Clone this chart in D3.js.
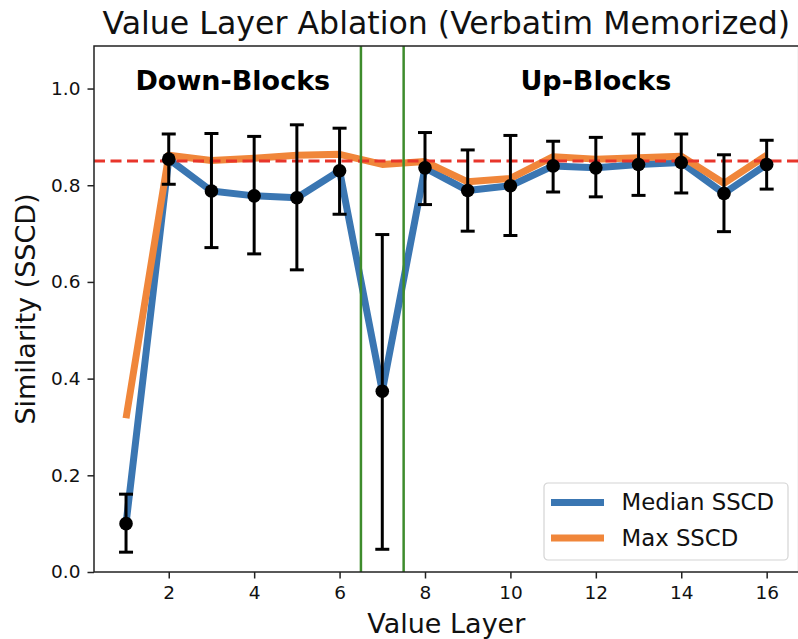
<!DOCTYPE html>
<html>
<head>
<meta charset="utf-8">
<script src="https://cdn.jsdelivr.net/npm/d3@7"></script>
<style>
    body { margin: 0; background: #fff; }
    svg { display: block; font-family: 'DejaVu Sans', sans-serif; }
</style>
</head>
<body>
<svg width="798" height="639"></svg>
<script>
// values
const layers = [1, 2, 3, 4, 5, 6, 7, 8, 9, 10, 11, 12, 13, 14, 15, 16]
const medianSSCD = [0.100, 0.854, 0.788, 0.778, 0.774, 0.830, 0.374, 0.836, 0.789, 0.799, 0.840, 0.836, 0.843, 0.847, 0.783, 0.843]
const maxSSCD = [0.318, 0.862, 0.851, 0.856, 0.862, 0.864, 0.843, 0.849, 0.807, 0.814, 0.859, 0.854, 0.857, 0.860, 0.804, 0.862]
const errLow = [0.041, 0.802, 0.671, 0.658, 0.625, 0.740, 0.047, 0.760, 0.705, 0.696, 0.786, 0.776, 0.779, 0.784, 0.704, 0.792]
const errHigh = [0.161, 0.906, 0.907, 0.901, 0.925, 0.918, 0.698, 0.909, 0.873, 0.903, 0.891, 0.899, 0.906, 0.906, 0.863, 0.893]
const xTicks = [2, 4, 6, 8, 10, 12, 14, 16]
const yTicks = [0.0, 0.2, 0.4, 0.6, 0.8, 1.0]
const baseline = 0.85
const blockSplits = [6.5, 7.5]
const blockLabels = [{ text: 'Down-Blocks', x: 3.5 }, { text: 'Up-Blocks', x: 12 }]
const seriesNames = ['Median SSCD', 'Max SSCD']

const blue = '#3a76b2'
const orange = '#f0863a'

const plotLeft = 94
const plotTop = 46
const plotRight = 798.7
const plotBottom = 572

const svg = d3.select('svg')

const xScale = d3.scaleLinear().domain([0.25, 16.75]).range([plotLeft, plotRight])
const yScale = d3.scaleLinear().domain([0, 1.088]).range([plotBottom, plotTop])

const data = layers.map((l, i) => ({
    layer: l,
    median: medianSSCD[i],
    max: maxSSCD[i],
    lo: errLow[i],
    hi: errHigh[i],
}))

// axes
const xAxis = d3.axisBottom(xScale).tickValues(xTicks).tickSize(6.5).tickPadding(7).tickSizeOuter(0)
const yAxis = d3.axisLeft(yScale).tickValues(yTicks).tickSize(6.5).tickPadding(7)
    .tickSizeOuter(0).tickFormat(d3.format('.1f'))

const xAxisG = svg.append('g').attr('transform', `translate(0, ${plotBottom})`).call(xAxis)
const yAxisG = svg.append('g').attr('transform', `translate(${plotLeft}, 0)`).call(yAxis)

for (const g of [xAxisG, yAxisG]) {
    g.select('.domain').remove()
    g.selectAll('.tick line').attr('stroke', '#222').attr('stroke-width', 1.5)
    g.selectAll('.tick text').attr('fill', '#111').style('font-size', '18.5px')
        .style('font-family', 'DejaVu Sans')
}

const plot = svg.append('g')

const medianLine = d3.line().x((d) => xScale(d.layer)).y((d) => yScale(d.median))
const maxLine = d3.line().x((d) => xScale(d.layer)).y((d) => yScale(d.max))

plot.append('path')
    .datum(data)
    .attr('d', medianLine)
    .attr('fill', 'none')
    .attr('stroke', blue)
    .attr('stroke-width', 7)
    .attr('stroke-linejoin', 'round')

plot.append('path')
    .datum(data)
    .attr('d', maxLine)
    .attr('fill', 'none')
    .attr('stroke', orange)
    .attr('stroke-width', 7)
    .attr('stroke-linejoin', 'round')

plot.append('line')
    .attr('x1', plotLeft)
    .attr('x2', plotRight)
    .attr('y1', yScale(baseline))
    .attr('y2', yScale(baseline))
    .attr('stroke', '#e8352b')
    .attr('stroke-width', 3)
    .attr('stroke-dasharray', '11,5.5')

plot.selectAll('line.split')
    .data(blockSplits)
    .join('line')
    .attr('class', 'split')
    .attr('x1', (d) => xScale(d))
    .attr('x2', (d) => xScale(d))
    .attr('y1', plotTop)
    .attr('y2', plotBottom)
    .attr('stroke', '#3e8c2c')
    .attr('stroke-width', 2.5)

// error bars
const err = plot.selectAll('g.err').data(data).join('g').attr('class', 'err')
err.append('line')
    .attr('x1', (d) => xScale(d.layer))
    .attr('x2', (d) => xScale(d.layer))
    .attr('y1', (d) => yScale(d.lo))
    .attr('y2', (d) => yScale(d.hi))
    .attr('stroke', '#000')
    .attr('stroke-width', 3)
for (const key of ['lo', 'hi']) {
    err.append('line')
        .attr('x1', (d) => xScale(d.layer) - 7)
        .attr('x2', (d) => xScale(d.layer) + 7)
        .attr('y1', (d) => yScale(d[key]))
        .attr('y2', (d) => yScale(d[key]))
        .attr('stroke', '#000')
        .attr('stroke-width', 3)
}
err.append('circle')
    .attr('cx', (d) => xScale(d.layer))
    .attr('cy', (d) => yScale(d.median))
    .attr('r', 6.8)
    .attr('fill', '#000')

// block labels
plot.selectAll('text.block')
    .data(blockLabels)
    .join('text')
    .attr('class', 'block')
    .attr('x', (d) => xScale(d.x))
    .attr('y', yScale(0.997))
    .attr('text-anchor', 'middle')
    .style('font-size', '27px')
    .style('font-weight', 'bold')
    .attr('fill', '#000')
    .text((d) => d.text)

// frame
svg.append('rect')
    .attr('x', plotLeft)
    .attr('y', plotTop)
    .attr('width', plotRight - plotLeft)
    .attr('height', plotBottom - plotTop)
    .attr('fill', 'none')
    .attr('stroke', '#222')
    .attr('stroke-width', 1.5)

// legend
const legend = svg.append('g').attr('transform', 'translate(544, 483)')
legend.append('rect')
    .attr('width', 244)
    .attr('height', 77)
    .attr('rx', 4)
    .attr('fill', '#fff')
    .attr('fill-opacity', 0.8)
    .attr('stroke', '#d4d4d4')
    .attr('stroke-width', 1.2)
const items = legend.selectAll('g.item')
    .data(seriesNames)
    .join('g')
    .attr('class', 'item')
    .attr('transform', (d, i) => `translate(0, ${19.5 + i * 35.5})`)
items.append('line')
    .attr('x1', 7)
    .attr('x2', 60)
    .attr('stroke', (d, i) => (i === 0 ? blue : orange))
    .attr('stroke-width', 7)
items.append('text')
    .attr('x', 77.5)
    .attr('dy', '0.35em')
    .style('font-size', '22.8px')
    .attr('fill', '#111')
    .text((d) => d)

// titles
svg.append('text')
    .attr('x', (plotLeft + plotRight) / 2)
    .attr('y', 34)
    .attr('text-anchor', 'middle')
    .style('font-size', '31.6px')
    .attr('fill', '#111')
    .text('Value Layer Ablation (Verbatim Memorized)')

svg.append('text')
    .attr('x', (plotLeft + plotRight) / 2)
    .attr('y', 633)
    .attr('text-anchor', 'middle')
    .style('font-size', '27px')
    .attr('fill', '#111')
    .text('Value Layer')

svg.append('text')
    .attr('transform', `translate(35, ${(plotTop + plotBottom) / 2}) rotate(-90)`)
    .attr('text-anchor', 'middle')
    .style('font-size', '27px')
    .attr('fill', '#111')
    .text('Similarity (SSCD)')
</script>
</body>
</html>
